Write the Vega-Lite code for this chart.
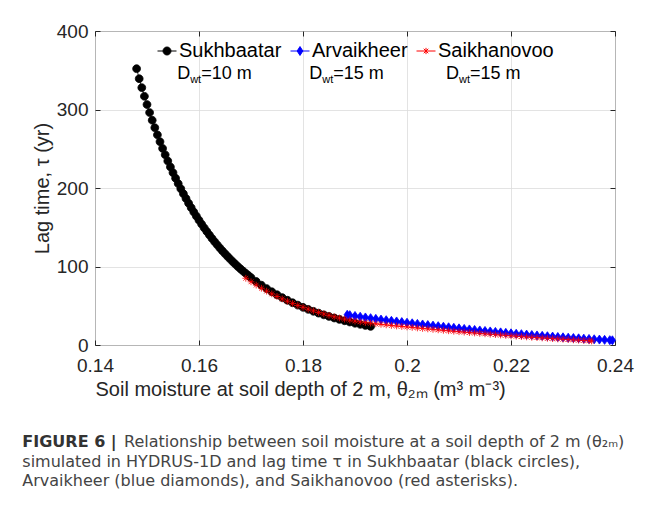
{
  "$schema": "https://vega.github.io/schema/vega-lite/v6.json",
  "width": 520,
  "height": 314,
  "padding": {"left": 22, "top": 22, "right": 5, "bottom": 5},
  "background": "white",
  "config": {
    "font": "Liberation Sans",
    "view": {"stroke": "#262626", "strokeWidth": 1}
  },
  "title": {
    "text": "FIGURE 6 |",
    "subtitle": [
      "\u200b\u00a0\u00a0\u00a0\u00a0\u00a0\u00a0\u00a0\u00a0\u00a0\u00a0\u00a0\u00a0\u00a0\u00a0\u00a0\u00a0\u00a0\u00a0\u00a0\u00a0Relationship between soil moisture at a soil depth of 2 m (θ₂ₘ)",
      "simulated in HYDRUS-1D and lag time τ in Sukhbaatar (black circles),",
      "Arvaikheer (blue diamonds), and Saikhanovoo (red asterisks)."
    ],
    "orient": "bottom",
    "anchor": "start",
    "frame": "bounds",
    "font": "DejaVu Sans",
    "fontSize": 16,
    "fontWeight": "bold",
    "color": "#333333",
    "subtitleFont": "DejaVu Sans",
    "subtitleFontSize": 16,
    "subtitleFontWeight": "normal",
    "subtitleColor": "#444444",
    "subtitleLineHeight": 19.5,
    "subtitlePadding": -16,
    "offset": 35,
    "dx": -10
  },
  "datasets": {
    "pts": [
      {"site":"Sukhbaatar","theta":0.148,"tau":352},
      {"site":"Sukhbaatar","theta":0.1485,"tau":339.2},
      {"site":"Sukhbaatar","theta":0.149,"tau":327.8},
      {"site":"Sukhbaatar","theta":0.1495,"tau":316.8},
      {"site":"Sukhbaatar","theta":0.150,"tau":306.3},
      {"site":"Sukhbaatar","theta":0.1505,"tau":296.1},
      {"site":"Sukhbaatar","theta":0.151,"tau":286.3},
      {"site":"Sukhbaatar","theta":0.1515,"tau":276.8},
      {"site":"Sukhbaatar","theta":0.152,"tau":267.7},
      {"site":"Sukhbaatar","theta":0.1525,"tau":258.9},
      {"site":"Sukhbaatar","theta":0.153,"tau":250.4},
      {"site":"Sukhbaatar","theta":0.1535,"tau":242.3},
      {"site":"Sukhbaatar","theta":0.154,"tau":234.4},
      {"site":"Sukhbaatar","theta":0.1545,"tau":226.8},
      {"site":"Sukhbaatar","theta":0.155,"tau":219.5},
      {"site":"Sukhbaatar","theta":0.1555,"tau":212.4},
      {"site":"Sukhbaatar","theta":0.156,"tau":205.6},
      {"site":"Sukhbaatar","theta":0.1565,"tau":199.0},
      {"site":"Sukhbaatar","theta":0.157,"tau":192.7},
      {"site":"Sukhbaatar","theta":0.1575,"tau":186.6},
      {"site":"Sukhbaatar","theta":0.158,"tau":180.6},
      {"site":"Sukhbaatar","theta":0.1585,"tau":174.9},
      {"site":"Sukhbaatar","theta":0.159,"tau":169.4},
      {"site":"Sukhbaatar","theta":0.1595,"tau":164.1},
      {"site":"Sukhbaatar","theta":0.160,"tau":159.0},
      {"site":"Sukhbaatar","theta":0.1605,"tau":154.0},
      {"site":"Sukhbaatar","theta":0.161,"tau":149.2},
      {"site":"Sukhbaatar","theta":0.1615,"tau":144.6},
      {"site":"Sukhbaatar","theta":0.162,"tau":140.1},
      {"site":"Sukhbaatar","theta":0.1625,"tau":135.8},
      {"site":"Sukhbaatar","theta":0.163,"tau":131.6},
      {"site":"Sukhbaatar","theta":0.1635,"tau":127.6},
      {"site":"Sukhbaatar","theta":0.164,"tau":123.7},
      {"site":"Sukhbaatar","theta":0.1645,"tau":119.9},
      {"site":"Sukhbaatar","theta":0.165,"tau":116.3},
      {"site":"Sukhbaatar","theta":0.1655,"tau":112.8},
      {"site":"Sukhbaatar","theta":0.166,"tau":109.4},
      {"site":"Sukhbaatar","theta":0.1665,"tau":106.1},
      {"site":"Sukhbaatar","theta":0.167,"tau":102.9},
      {"site":"Sukhbaatar","theta":0.1675,"tau":99.8},
      {"site":"Sukhbaatar","theta":0.168,"tau":96.8},
      {"site":"Sukhbaatar","theta":0.1685,"tau":94.0},
      {"site":"Sukhbaatar","theta":0.169,"tau":91.2},
      {"site":"Sukhbaatar","theta":0.1695,"tau":88.5},
      {"site":"Sukhbaatar","theta":0.170,"tau":85.9},
      {"site":"Sukhbaatar","theta":0.171,"tau":80.9},
      {"site":"Sukhbaatar","theta":0.172,"tau":76.2},
      {"site":"Sukhbaatar","theta":0.173,"tau":71.9},
      {"site":"Sukhbaatar","theta":0.174,"tau":67.8},
      {"site":"Sukhbaatar","theta":0.175,"tau":64.0},
      {"site":"Sukhbaatar","theta":0.176,"tau":60.4},
      {"site":"Sukhbaatar","theta":0.177,"tau":57.0},
      {"site":"Sukhbaatar","theta":0.178,"tau":53.8},
      {"site":"Sukhbaatar","theta":0.179,"tau":50.8},
      {"site":"Sukhbaatar","theta":0.180,"tau":48.0},
      {"site":"Sukhbaatar","theta":0.181,"tau":45.4},
      {"site":"Sukhbaatar","theta":0.182,"tau":42.9},
      {"site":"Sukhbaatar","theta":0.183,"tau":40.6},
      {"site":"Sukhbaatar","theta":0.184,"tau":38.4},
      {"site":"Sukhbaatar","theta":0.185,"tau":36.4},
      {"site":"Sukhbaatar","theta":0.186,"tau":34.4},
      {"site":"Sukhbaatar","theta":0.187,"tau":32.6},
      {"site":"Sukhbaatar","theta":0.188,"tau":30.9},
      {"site":"Sukhbaatar","theta":0.189,"tau":29.3},
      {"site":"Sukhbaatar","theta":0.190,"tau":27.7},
      {"site":"Sukhbaatar","theta":0.191,"tau":26.3},
      {"site":"Sukhbaatar","theta":0.192,"tau":24.9},
      {"site":"Sukhbaatar","theta":0.193,"tau":23.7},
      {"site":"Arvaikheer","theta":0.1885,"tau":38.5},
      {"site":"Arvaikheer","theta":0.189,"tau":38.0},
      {"site":"Arvaikheer","theta":0.190,"tau":37.0},
      {"site":"Arvaikheer","theta":0.191,"tau":36.0},
      {"site":"Arvaikheer","theta":0.192,"tau":35.1},
      {"site":"Arvaikheer","theta":0.193,"tau":34.2},
      {"site":"Arvaikheer","theta":0.194,"tau":33.3},
      {"site":"Arvaikheer","theta":0.195,"tau":32.4},
      {"site":"Arvaikheer","theta":0.196,"tau":31.6},
      {"site":"Arvaikheer","theta":0.197,"tau":30.8},
      {"site":"Arvaikheer","theta":0.198,"tau":30.0},
      {"site":"Arvaikheer","theta":0.199,"tau":29.2},
      {"site":"Arvaikheer","theta":0.200,"tau":28.4},
      {"site":"Arvaikheer","theta":0.201,"tau":27.65},
      {"site":"Arvaikheer","theta":0.202,"tau":26.9},
      {"site":"Arvaikheer","theta":0.203,"tau":26.15},
      {"site":"Arvaikheer","theta":0.204,"tau":25.4},
      {"site":"Arvaikheer","theta":0.205,"tau":24.7},
      {"site":"Arvaikheer","theta":0.206,"tau":24.0},
      {"site":"Arvaikheer","theta":0.207,"tau":23.3},
      {"site":"Arvaikheer","theta":0.208,"tau":22.6},
      {"site":"Arvaikheer","theta":0.209,"tau":21.9},
      {"site":"Arvaikheer","theta":0.210,"tau":21.2},
      {"site":"Arvaikheer","theta":0.211,"tau":20.5},
      {"site":"Arvaikheer","theta":0.212,"tau":19.85},
      {"site":"Arvaikheer","theta":0.213,"tau":19.2},
      {"site":"Arvaikheer","theta":0.214,"tau":18.55},
      {"site":"Arvaikheer","theta":0.215,"tau":17.9},
      {"site":"Arvaikheer","theta":0.216,"tau":17.3},
      {"site":"Arvaikheer","theta":0.217,"tau":16.7},
      {"site":"Arvaikheer","theta":0.218,"tau":16.1},
      {"site":"Arvaikheer","theta":0.219,"tau":15.5},
      {"site":"Arvaikheer","theta":0.220,"tau":14.9},
      {"site":"Arvaikheer","theta":0.221,"tau":14.35},
      {"site":"Arvaikheer","theta":0.222,"tau":13.8},
      {"site":"Arvaikheer","theta":0.223,"tau":13.25},
      {"site":"Arvaikheer","theta":0.224,"tau":12.7},
      {"site":"Arvaikheer","theta":0.225,"tau":12.2},
      {"site":"Arvaikheer","theta":0.226,"tau":11.7},
      {"site":"Arvaikheer","theta":0.227,"tau":11.2},
      {"site":"Arvaikheer","theta":0.228,"tau":10.7},
      {"site":"Arvaikheer","theta":0.229,"tau":10.25},
      {"site":"Arvaikheer","theta":0.230,"tau":9.8},
      {"site":"Arvaikheer","theta":0.231,"tau":9.35},
      {"site":"Arvaikheer","theta":0.232,"tau":8.9},
      {"site":"Arvaikheer","theta":0.233,"tau":8.5},
      {"site":"Arvaikheer","theta":0.234,"tau":8.1},
      {"site":"Arvaikheer","theta":0.235,"tau":7.7},
      {"site":"Arvaikheer","theta":0.236,"tau":7.3},
      {"site":"Arvaikheer","theta":0.237,"tau":6.9},
      {"site":"Arvaikheer","theta":0.238,"tau":6.55},
      {"site":"Arvaikheer","theta":0.239,"tau":6.2},
      {"site":"Arvaikheer","theta":0.2395,"tau":6.0},
      {"site":"Saikhanovoo","theta":0.169,"tau":85.0},
      {"site":"Saikhanovoo","theta":0.170,"tau":80.5},
      {"site":"Saikhanovoo","theta":0.171,"tau":76.3},
      {"site":"Saikhanovoo","theta":0.172,"tau":72.3},
      {"site":"Saikhanovoo","theta":0.173,"tau":68.6},
      {"site":"Saikhanovoo","theta":0.174,"tau":65.1},
      {"site":"Saikhanovoo","theta":0.175,"tau":61.8},
      {"site":"Saikhanovoo","theta":0.176,"tau":58.7},
      {"site":"Saikhanovoo","theta":0.177,"tau":55.8},
      {"site":"Saikhanovoo","theta":0.178,"tau":53.0},
      {"site":"Saikhanovoo","theta":0.179,"tau":50.4},
      {"site":"Saikhanovoo","theta":0.180,"tau":48.0},
      {"site":"Saikhanovoo","theta":0.181,"tau":45.7},
      {"site":"Saikhanovoo","theta":0.182,"tau":43.5},
      {"site":"Saikhanovoo","theta":0.183,"tau":41.5},
      {"site":"Saikhanovoo","theta":0.184,"tau":39.6},
      {"site":"Saikhanovoo","theta":0.185,"tau":37.8},
      {"site":"Saikhanovoo","theta":0.186,"tau":36.0},
      {"site":"Saikhanovoo","theta":0.187,"tau":34.4},
      {"site":"Saikhanovoo","theta":0.188,"tau":33.0},
      {"site":"Saikhanovoo","theta":0.189,"tau":31.7},
      {"site":"Saikhanovoo","theta":0.190,"tau":30.5},
      {"site":"Saikhanovoo","theta":0.191,"tau":29.5},
      {"site":"Saikhanovoo","theta":0.192,"tau":28.6},
      {"site":"Saikhanovoo","theta":0.193,"tau":27.8},
      {"site":"Saikhanovoo","theta":0.194,"tau":27.0},
      {"site":"Saikhanovoo","theta":0.195,"tau":26.3},
      {"site":"Saikhanovoo","theta":0.196,"tau":25.6},
      {"site":"Saikhanovoo","theta":0.197,"tau":24.9},
      {"site":"Saikhanovoo","theta":0.198,"tau":24.2},
      {"site":"Saikhanovoo","theta":0.199,"tau":23.6},
      {"site":"Saikhanovoo","theta":0.200,"tau":23.0},
      {"site":"Saikhanovoo","theta":0.201,"tau":22.4},
      {"site":"Saikhanovoo","theta":0.202,"tau":21.7},
      {"site":"Saikhanovoo","theta":0.203,"tau":21.1},
      {"site":"Saikhanovoo","theta":0.204,"tau":20.5},
      {"site":"Saikhanovoo","theta":0.205,"tau":19.9},
      {"site":"Saikhanovoo","theta":0.206,"tau":19.3},
      {"site":"Saikhanovoo","theta":0.207,"tau":18.7},
      {"site":"Saikhanovoo","theta":0.208,"tau":18.1},
      {"site":"Saikhanovoo","theta":0.209,"tau":17.5},
      {"site":"Saikhanovoo","theta":0.210,"tau":16.9},
      {"site":"Saikhanovoo","theta":0.211,"tau":16.4},
      {"site":"Saikhanovoo","theta":0.212,"tau":15.8},
      {"site":"Saikhanovoo","theta":0.213,"tau":15.3},
      {"site":"Saikhanovoo","theta":0.214,"tau":14.8},
      {"site":"Saikhanovoo","theta":0.215,"tau":14.2},
      {"site":"Saikhanovoo","theta":0.216,"tau":13.7},
      {"site":"Saikhanovoo","theta":0.217,"tau":13.2},
      {"site":"Saikhanovoo","theta":0.218,"tau":12.7},
      {"site":"Saikhanovoo","theta":0.219,"tau":12.2},
      {"site":"Saikhanovoo","theta":0.220,"tau":11.7},
      {"site":"Saikhanovoo","theta":0.221,"tau":11.2},
      {"site":"Saikhanovoo","theta":0.222,"tau":10.7},
      {"site":"Saikhanovoo","theta":0.223,"tau":10.3},
      {"site":"Saikhanovoo","theta":0.224,"tau":9.8},
      {"site":"Saikhanovoo","theta":0.225,"tau":9.4},
      {"site":"Saikhanovoo","theta":0.226,"tau":9.0},
      {"site":"Saikhanovoo","theta":0.227,"tau":8.5},
      {"site":"Saikhanovoo","theta":0.228,"tau":8.1},
      {"site":"Saikhanovoo","theta":0.229,"tau":7.7},
      {"site":"Saikhanovoo","theta":0.230,"tau":7.3},
      {"site":"Saikhanovoo","theta":0.231,"tau":6.9},
      {"site":"Saikhanovoo","theta":0.232,"tau":6.5},
      {"site":"Saikhanovoo","theta":0.233,"tau":6.1},
      {"site":"Saikhanovoo","theta":0.234,"tau":5.7},
      {"site":"Saikhanovoo","theta":0.235,"tau":5.3},
      {"site":"Saikhanovoo","theta":0.2355,"tau":5.1}
    ],
    "notes": [
      {"site":"Sukhbaatar","theta":0.1558,"note":"=10 m"},
      {"site":"Arvaikheer","theta":0.1812,"note":"=15 m"},
      {"site":"Saikhanovoo","theta":0.2075,"note":"=15 m"}
    ]
  },
  "resolve": {"axis": {"x": "independent", "y": "independent"}},
  "layer": [
    {
      "data": {"name": "pts"},
      "mark": {"type": "line", "strokeWidth": 0.8},
      "encoding": {
        "x": {
          "field": "theta", "type": "quantitative",
          "scale": {"domain": [0.14, 0.24], "nice": false, "zero": false},
          "axis": {
            "orient": "bottom", "values": [0.14, 0.16, 0.18, 0.2, 0.22, 0.24], "format": ".2~f",
            "ticks": false, "domain": false, "grid": true, "gridColor": "#dcdcdc", "gridWidth": 0.8,
            "labelFontSize": 19, "labelColor": "#262626", "labelPadding": 11, "labelFlush": false,
            "title": "Soil moisture at soil depth of 2 m, θ₂ₘ  (m³ m⁻³)",
            "titleFontSize": 20, "titleFontWeight": "normal", "titleColor": "#262626",
            "titleAnchor": "start", "titlePadding": 4
          }
        },
        "y": {
          "field": "tau", "type": "quantitative",
          "scale": {"domain": [0, 400], "nice": false, "zero": false},
          "axis": {
            "orient": "left", "values": [0, 100, 200, 300, 400], "format": "d",
            "ticks": false, "domain": false, "grid": true, "gridColor": "#dcdcdc", "gridWidth": 0.8,
            "labelFontSize": 19, "labelColor": "#262626", "labelPadding": 7, "labelFlush": false,
            "title": "Lag time, τ (yr)",
            "titleFontSize": 20, "titleFontWeight": "normal", "titleColor": "#262626", "titlePadding": 4
          }
        },
        "color": {
          "field": "site", "type": "nominal",
          "scale": {"domain": ["Arvaikheer", "Saikhanovoo", "Sukhbaatar"], "range": ["#0000ff", "#ff0000", "#000000"]},
          "legend": null
        }
      }
    },
    {
      "data": {"name": "pts"},
      "mark": {"type": "point", "size": 81, "strokeWidth": 0.8},
      "encoding": {
        "x": {
          "field": "theta", "type": "quantitative",
          "scale": {"domain": [0.14, 0.24], "nice": false, "zero": false},
          "axis": {"orient": "top", "values": [0.14, 0.16, 0.18, 0.2, 0.22, 0.24], "labels": false, "grid": false, "domain": false, "ticks": true, "tickSize": -5, "tickColor": "#262626", "title": null}
        },
        "y": {
          "field": "tau", "type": "quantitative",
          "scale": {"domain": [0, 400], "nice": false, "zero": false},
          "axis": {"orient": "right", "values": [0, 100, 200, 300, 400], "labels": false, "grid": false, "domain": false, "ticks": true, "tickSize": -5, "tickColor": "#262626", "title": null}
        },
        "fill": {
          "field": "site", "type": "nominal",
          "scale": {"domain": ["Arvaikheer", "Saikhanovoo", "Sukhbaatar"], "range": ["#0000ff", "transparent", "#000000"]},
          "legend": null
        },
        "stroke": {
          "field": "site", "type": "nominal",
          "scale": {"domain": ["Arvaikheer", "Saikhanovoo", "Sukhbaatar"], "range": ["#0000ff", "#ff0000", "#000000"]},
          "legend": null
        },
        "shape": {
          "field": "site", "type": "nominal",
          "scale": {
            "domain": ["Arvaikheer", "Saikhanovoo", "Sukhbaatar"],
            "range": [
              "M0,-1L0.7,0L0,1L-0.7,0Z",
              "M0,-0.75L0,0.75M-0.75,0L0.75,0M-0.53,-0.53L0.53,0.53M-0.53,0.53L0.53,-0.53",
              "M-0.87,0A0.87,0.87,0,1,0,0.87,0A0.87,0.87,0,1,0,-0.87,0Z"
            ]
          },
          "legend": null
        },
        "opacity": {
          "field": "site", "type": "ordinal",
          "scale": {"domain": ["Sukhbaatar", "Arvaikheer", "Saikhanovoo"], "range": [1, 1]},
          "legend": {
            "orient": "none", "legendX": 62, "legendY": 10, "direction": "horizontal",
            "title": null, "padding": 0,
            "labelFont": "Liberation Sans", "labelFontSize": 20, "labelColor": "#000000",
            "labelOffset": 2, "columnPadding": 6,
            "symbolSize": 361, "symbolStrokeWidth": 1,
            "symbolType": {"expr": "datum.value === 'Sukhbaatar' ? 'M-1,0L1,0M-0.42,0A0.42,0.42,0,1,0,0.42,0A0.42,0.42,0,1,0,-0.42,0Z' : datum.value === 'Arvaikheer' ? 'M-1,0L1,0M0,-0.47L0.3,0L0,0.47L-0.3,0Z' : 'M-1,0L1,0M0,-0.33L0,0.33M-0.24,-0.24L0.24,0.24M-0.24,0.24L0.24,-0.24'"},
            "symbolFillColor": {"expr": "datum.value === 'Saikhanovoo' ? 'transparent' : datum.value === 'Arvaikheer' ? '#0000ff' : '#000000'"},
            "symbolStrokeColor": {"expr": "datum.value === 'Saikhanovoo' ? '#ff0000' : datum.value === 'Arvaikheer' ? '#0000ff' : '#000000'"}
          }
        }
      }
    },
    {
      "data": {"name": "notes"},
      "mark": {"type": "text", "align": "left", "baseline": "middle", "fontSize": 18, "color": "#000000"},
      "encoding": {
        "x": {
          "field": "theta", "type": "quantitative",
          "scale": {"domain": [0.14, 0.24], "nice": false, "zero": false},
          "axis": {"orient": "bottom", "values": [0.14, 0.16, 0.18, 0.2, 0.22, 0.24], "labels": false, "grid": false, "domain": false, "ticks": true, "tickSize": -5, "tickColor": "#262626", "title": null}
        },
        "y": {
          "datum": 344.6, "type": "quantitative",
          "scale": {"domain": [0, 400], "nice": false, "zero": false},
          "axis": {"orient": "left", "values": [0, 100, 200, 300, 400], "labels": false, "grid": false, "domain": false, "ticks": true, "tickSize": -5, "tickColor": "#262626", "title": null}
        },
        "text": {"value": "D"}
      }
    },
    {
      "data": {"name": "notes"},
      "mark": {"type": "text", "align": "left", "baseline": "middle", "fontSize": 11, "dx": 13, "dy": 6, "color": "#000000"},
      "encoding": {
        "x": {"field": "theta", "type": "quantitative", "scale": {"domain": [0.14, 0.24], "nice": false, "zero": false}, "axis": null},
        "y": {"datum": 344.6, "type": "quantitative", "scale": {"domain": [0, 400], "nice": false, "zero": false}, "axis": null},
        "text": {"value": "wt"}
      }
    },
    {
      "data": {"name": "notes"},
      "mark": {"type": "text", "align": "left", "baseline": "middle", "fontSize": 18, "dx": 24, "color": "#000000"},
      "encoding": {
        "x": {"field": "theta", "type": "quantitative", "scale": {"domain": [0.14, 0.24], "nice": false, "zero": false}, "axis": null},
        "y": {"datum": 344.6, "type": "quantitative", "scale": {"domain": [0, 400], "nice": false, "zero": false}, "axis": null},
        "text": {"field": "note"}
      }
    }
  ]
}
